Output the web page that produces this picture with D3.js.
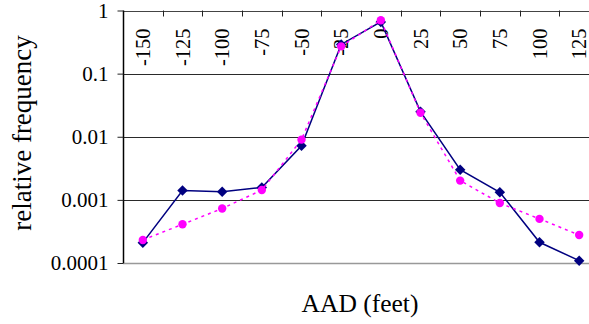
<!DOCTYPE html>
<html>
<head>
<meta charset="utf-8">
<script src="https://cdn.jsdelivr.net/npm/d3@7"></script>
<style>
  html, body { margin: 0; padding: 0; background: #fff; overflow: hidden; }
  svg, svg text { font-family: "Liberation Serif", "Times New Roman", serif; }
  svg { display: block; }
</style>
</head>
<body>
<svg id="chart" width="589" height="324"></svg>
<script>
// AAD offsets (feet) and relative frequency of the two distributions
const categories = [-150, -125, -100, -75, -50, -25, 0, 25, 50, 75, 100, 125];
const seriesA = [0.00021, 0.00141, 0.00135, 0.00157, 0.0072, 0.29, 0.66, 0.025, 0.0030, 0.00132, 0.000213, 0.000109];
const seriesB = [0.000232, 0.00041, 0.00073, 0.00143, 0.0090, 0.27, 0.70, 0.024, 0.00202, 0.00089, 0.00050, 0.000278];
const yTicks = [1, 0.1, 0.01, 0.001, 0.0001];
const yTickLabels = ["1", "0.1", "0.01", "0.001", "0.0001"];

const svg = d3.select("#chart");
const plotLeft = 123, plotRight = 599, plotTop = 10.5, plotBottom = 263;

const x = d3.scaleBand().domain(categories).range([plotLeft, plotRight]).padding(0);
const y = d3.scaleLog().domain([0.0001, 1]).range([plotBottom, plotTop]);
const cx = d => x(d) + x.bandwidth() / 2;

// horizontal gridlines
svg.append("g").selectAll("line")
  .data([0.1, 0.01, 0.001]).join("line")
  .attr("x1", plotLeft).attr("x2", plotRight)
  .attr("y1", d => Math.round(y(d)) + 0.5).attr("y2", d => Math.round(y(d)) + 0.5)
  .attr("stroke", "#2a2a2a").attr("stroke-width", 1);

// top border
svg.append("line")
  .attr("x1", plotLeft).attr("x2", plotRight)
  .attr("y1", Math.round(plotTop) + 0.5).attr("y2", Math.round(plotTop) + 0.5)
  .attr("stroke", "#444").attr("stroke-width", 1.2);

// bottom border
svg.append("line")
  .attr("x1", plotLeft).attr("x2", plotRight)
  .attr("y1", plotBottom + 0.5).attr("y2", plotBottom + 0.5)
  .attr("stroke", "#999").attr("stroke-width", 1.5);

// category axis along the top, ticks between categories, labels rotated
const xAxis = svg.append("g")
  .attr("transform", `translate(0,${Math.round(plotTop) + 0.5})`)
  .call(d3.axisBottom(x).tickSize(0).tickFormat(d => d));
xAxis.select(".domain").remove();
xAxis.selectAll(".tick line").remove();
xAxis.selectAll(".tick text")
  .attr("transform", "rotate(-90)")
  .attr("x", -17)
  .attr("y", 0)
  .attr("dy", "0.35em")
  .attr("text-anchor", "end")
  .attr("font-size", 20.5)
  .attr("fill", "#000");
svg.append("g").selectAll("line")
  .data(categories.slice(1)).join("line")
  .attr("x1", d => Math.round(x(d)) + 0.5).attr("x2", d => Math.round(x(d)) + 0.5)
  .attr("y1", plotTop).attr("y2", plotTop + 6)
  .attr("stroke", "#222").attr("stroke-width", 1);

// value axis (log scale)
const yAxis = svg.append("g")
  .attr("transform", `translate(${plotLeft + 0.5},0)`)
  .call(d3.axisLeft(y).tickValues(yTicks).tickSize(6).tickPadding(9)
    .tickFormat((d, i) => yTickLabels[i]));
yAxis.select(".domain").attr("stroke", "#000").attr("stroke-width", 1.5)
  .attr("d", `M0,${plotTop}V${plotBottom}`);
yAxis.selectAll(".tick line").attr("stroke", "#222");
yAxis.selectAll(".tick text")
  .attr("font-size", 21)
  .attr("fill", "#000");

// series A: solid navy line with diamonds
const line = d3.line().x((d, i) => cx(categories[i])).y(d => y(d));
svg.append("path").datum(seriesA)
  .attr("d", line).attr("fill", "none")
  .attr("stroke", "#000080").attr("stroke-width", 1.5);
svg.append("g").selectAll("path")
  .data(seriesA).join("path")
  .attr("d", d3.symbol(d3.symbolDiamond2, 70))
  .attr("transform", (d, i) => `translate(${cx(categories[i])},${y(d)})`)
  .attr("fill", "#000080");

// series B: dotted magenta line with circles
svg.append("path").datum(seriesB)
  .attr("d", line).attr("fill", "none")
  .attr("stroke", "#ff00ff").attr("stroke-width", 1.5)
  .attr("stroke-dasharray", "3,4");
svg.append("g").selectAll("circle")
  .data(seriesB).join("circle")
  .attr("cx", (d, i) => cx(categories[i])).attr("cy", d => y(d))
  .attr("r", 4.2).attr("fill", "#ff00ff");

// axis titles
svg.append("text")
  .attr("transform", "translate(31,133) rotate(-90)")
  .attr("text-anchor", "middle")
  .attr("font-size", 27)
  .text("relative frequency");
svg.append("text")
  .attr("x", 360).attr("y", 312)
  .attr("text-anchor", "middle")
  .attr("font-size", 25.5)
  .text("AAD (feet)");
</script>
</body>
</html>
